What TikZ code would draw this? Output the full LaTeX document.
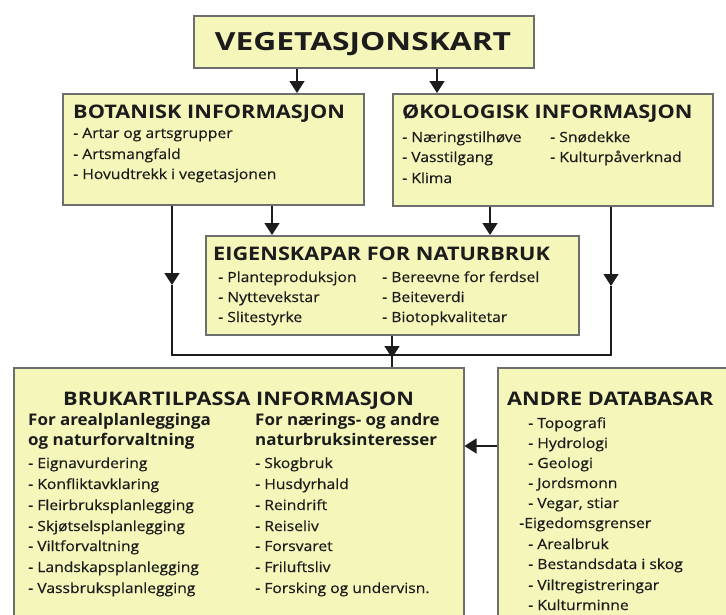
\documentclass[tikz,border=0pt]{standalone}
\usepackage{fontspec}
\setmainfont{Open Sans}
\newfontfamily\titlefont{Open Sans}[FakeStretch=1.27]
\newfontfamily\headfont{Open Sans}[FakeStretch=1.16]
\newfontfamily\subfont{Open Sans}[FakeStretch=1.06]
\newfontfamily\itemfont{Open Sans}[FakeStretch=1.12,FakeBold=0.5]
\usetikzlibrary{arrows.meta}
\definecolor{boxfill}{RGB}{244,246,186}
\definecolor{boxline}{RGB}{110,110,110}
\definecolor{ink}{RGB}{28,28,28}
\tikzset{
  box/.style={draw=boxline, line width=1.5pt, fill=boxfill, inner sep=0pt, anchor=north west},
  conn/.style={draw=ink, line width=1.3pt},
  arr/.style={conn, -{Triangle[width=15pt,length=12pt]}},
  bigtitle/.style={anchor=base, inner sep=0pt, text=ink, font=\titlefont\bfseries\fontsize{25}{25}\selectfont},
  head/.style={anchor=base west, inner sep=0pt, text=ink, font=\headfont\bfseries\fontsize{18.7}{18.7}\selectfont},
  sub/.style={anchor=base west, inner sep=0pt, text=ink, font=\subfont\bfseries\fontsize{16}{16}\selectfont},
  item/.style={anchor=base west, inner sep=0pt, text=ink, font=\itemfont\fontsize{14}{14}\selectfont},
}
\begin{document}
\begin{tikzpicture}[x=1pt,y=-1pt]
\useasboundingbox (0,0) rectangle (726,614);
\clip (0,0) rectangle (726,614);
\fill[white] (0,0) rectangle (726,614);
% boxes
\node[box, minimum width=340pt, minimum height=52pt] (top) at (193,15) {};
\node[box, minimum width=301pt, minimum height=111pt] (bot) at (62,93) {};
\node[box, minimum width=320pt, minimum height=112pt] (oko) at (392,93) {};
\node[box, minimum width=373pt, minimum height=99pt] (eig) at (205,235) {};
\node[box, minimum width=450pt, minimum height=280pt] (bru) at (13,367) {};
\node[box, minimum width=250pt, minimum height=280pt] (and) at (497,367) {};
% texts
\node[bigtitle] (tTop) at (363,50) {VEGETASJONSKART};
\node[head] (tBot) at (73,118) {BOTANISK INFORMASJON};
\node[item] (b1) at (73,138) {- Artar og artsgrupper};
\node[item] (b2) at (73,159) {- Artsmangfald};
\node[item] (b3) at (73,179) {- Hovudtrekk i vegetasjonen};
\node[head] (tOko) at (402,118) {ØKOLOGISK INFORMASJON};
\node[item] (o1) at (402,142) {- Næringstilhøve};
\node[item] (o2) at (402,162) {- Vasstilgang};
\node[item] (o3) at (402,183) {- Klima};
\node[item] (o4) at (550,142) {- Snødekke};
\node[item] (o5) at (550,162) {- Kulturpåverknad};
\node[head] (tEig) at (213,260) {EIGENSKAPAR FOR NATURBRUK};
\node[item] (e1) at (218,282) {- Planteproduksjon};
\node[item] (e2) at (218,302) {- Nyttevekstar};
\node[item] (e3) at (218,322) {- Slitestyrke};
\node[item] (e4) at (382,282) {- Bereevne for ferdsel};
\node[item] (e5) at (382,302) {- Beiteverdi};
\node[item] (e6) at (382,322) {- Biotopkvalitetar};
\node[head] (tBru) at (63,405) {BRUKARTILPASSA INFORMASJON};
\node[sub] (s1) at (28,425) {For arealplanlegginga};
\node[sub] (s2) at (28,445) {og naturforvaltning};
\node[sub] (s3) at (255,425) {For nærings- og andre};
\node[sub] (s4) at (255,445) {naturbruksinteresser};
\node[item] (r1) at (28,468) {- Eignavurdering};
\node[item] (r2) at (28,489) {- Konfliktavklaring};
\node[item] (r3) at (28,510) {- Fleirbruksplanlegging};
\node[item] (r4) at (28,531) {- Skjøtselsplanlegging};
\node[item] (r5) at (28,551) {- Viltforvaltning};
\node[item] (r6) at (28,572) {- Landskapsplanlegging};
\node[item] (r7) at (28,593) {- Vassbruksplanlegging};
\node[item] (q1) at (255,468) {- Skogbruk};
\node[item] (q2) at (255,489) {- Husdyrhald};
\node[item] (q3) at (255,510) {- Reindrift};
\node[item] (q4) at (255,531) {- Reiseliv};
\node[item] (q5) at (255,551) {- Forsvaret};
\node[item] (q6) at (255,572) {- Friluftsliv};
\node[item] (q7) at (255,593) {- Forsking og undervisn.};
\node[head] (tAnd) at (507,405) {ANDRE DATABASAR};
\node[item] (a1) at (528,428) {- Topografi};
\node[item] (a2) at (528,448) {- Hydrologi};
\node[item] (a3) at (528,468) {- Geologi};
\node[item] (a4) at (528,488) {- Jordsmonn};
\node[item] (a5) at (528,508) {- Vegar, stiar};
\node[item] (a6) at (519,528) {-Eigedomsgrenser};
\node[item] (a7) at (528,549) {- Arealbruk};
\node[item] (a8) at (528,569) {- Bestandsdata i skog};
\node[item] (a9) at (528,590) {- Viltregistreringar};
\node[item] (a10) at (528,610) {- Kulturminne};
% connectors
\draw[arr] (top.south -| 297,0) -- (bot.north -| 297,0);
\draw[arr] (top.south -| 437,0) -- (oko.north -| 437,0);
\draw[arr] (bot.south -| 272,0) -- (eig.north -| 272,0);
\draw[arr] (oko.south -| 490,0) -- (eig.north -| 490,0);
\coordinate (jl) at (172,355);
\coordinate (jr) at (611,355);
\coordinate (jm) at (392,355);
\coordinate (ml) at (172,285);
\coordinate (mr) at (611,286);
\draw[arr] (bot.south -| jl) -- (ml);
\draw[arr] (oko.south -| jr) -- (mr);
\draw[conn] (ml) -- (jl) -- (jr) -- (mr);
\draw[arr] (eig.south -| jm) -- ([yshift=-3pt]jm);
\draw[conn] (jm) -- (bru.north -| jm);
\draw[arr] (and.west |- 0,446) -- (bru.east |- 0,446);
\end{tikzpicture}
\end{document}
